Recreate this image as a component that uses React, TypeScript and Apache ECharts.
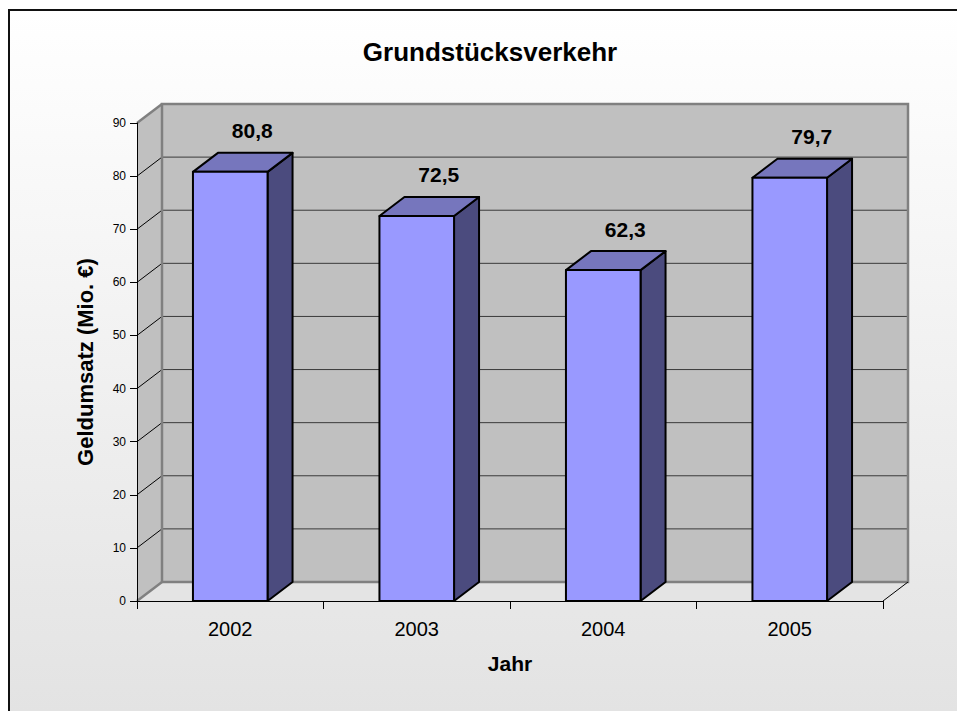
import React, { useEffect, useRef } from "react";
import * as echarts from "echarts";

const categories = ["2002", "2003", "2004", "2005"];
const values = [80.8, 72.5, 62.3, 79.7];
const valueLabels = ["80,8", "72,5", "62,3", "79,7"];
const yMin = 0;
const yMax = 90;
const yStep = 10;
const titleText = "Grundstücksverkehr";
const xName = "Jahr";
const yName = "Geldumsatz (Mio. €)";

const DX = 25;
const DY = 19;
const FONT = "Arial, 'Liberation Sans', sans-serif";

export default function App() {
  const ref = useRef<HTMLDivElement>(null);
  useEffect(() => {
    if (!ref.current) return;
    const chart = echarts.init(ref.current, undefined, { renderer: "svg" });

    const wallsRender = (params: any, api: any) => {
      const cs = params.coordSys;
      const L = cs.x;
      const R = cs.x + cs.width;
      const B = api.coord([0, yMin])[1];
      const T = api.coord([0, yMax])[1];
      const children: any[] = [];
      children.push({
        type: "polygon",
        shape: { points: [[L, B], [L, T], [L + DX, T - DY], [L + DX, B - DY]] },
        style: { fill: "#c0c0c0" },
      });
      children.push({
        type: "polygon",
        shape: { points: [[L, B], [R, B], [R + DX, B - DY], [L + DX, B - DY]] },
        style: { fill: "#e4e4e4" },
      });
      children.push({
        type: "rect",
        shape: { x: L + DX, y: T - DY, width: R - L, height: B - T },
        style: { fill: "#c0c0c0" },
      });
      for (let v = yMin + yStep; v < yMax; v += yStep) {
        const y = api.coord([0, v])[1];
        children.push({
          type: "line",
          shape: { x1: L + DX, y1: y - DY, x2: R + DX, y2: y - DY },
          style: { stroke: "#3a3a3a", lineWidth: 1 },
        });
        children.push({
          type: "line",
          shape: { x1: L, y1: y, x2: L + DX, y2: y - DY },
          style: { stroke: "#000", lineWidth: 1 },
        });
      }
      children.push({
        type: "rect",
        shape: { x: L + DX, y: T - DY, width: R - L, height: B - T },
        style: { fill: "none", stroke: "#808080", lineWidth: 2.5 },
      });
      children.push({
        type: "line",
        shape: { x1: L, y1: T, x2: L + DX, y2: T - DY },
        style: { stroke: "#808080", lineWidth: 2.5 },
      });
      children.push({
        type: "line",
        shape: { x1: L, y1: B, x2: L + DX, y2: B - DY },
        style: { stroke: "#808080", lineWidth: 2.5 },
      });
      children.push({
        type: "line",
        shape: { x1: R, y1: B, x2: R + DX, y2: B - DY },
        style: { stroke: "#000", lineWidth: 1 },
      });
      return { type: "group", children };
    };

    const barsRender = (params: any, api: any) => {
      const idx = api.value(0);
      const val = api.value(1);
      const [cx, yTop] = api.coord([idx, val]);
      const y0 = api.coord([idx, yMin])[1];
      const w = api.size([1, 0])[0] * 0.4;
      const x1 = cx - w / 2;
      const x2 = cx + w / 2;
      const stroke = { stroke: "#000", lineWidth: 2, lineJoin: "round" };
      return {
        type: "group",
        children: [
          {
            type: "polygon",
            shape: { points: [[x2, yTop], [x2 + DX, yTop - DY], [x2 + DX, y0 - DY], [x2, y0]] },
            style: { fill: "#4b4b7e", ...stroke },
          },
          {
            type: "polygon",
            shape: { points: [[x1, yTop], [x2, yTop], [x2 + DX, yTop - DY], [x1 + DX, yTop - DY]] },
            style: { fill: "#7676bd", ...stroke },
          },
          {
            type: "rect",
            shape: { x: x1, y: yTop, width: w, height: y0 - yTop },
            style: { fill: "#9999ff", ...stroke },
          },
          {
            type: "text",
            x: cx + 22,
            y: yTop - 41,
            style: {
              text: valueLabels[params.dataIndex],
              fontFamily: FONT,
              fontWeight: "bold",
              fontSize: 21,
              fill: "#000",
              align: "center",
              verticalAlign: "middle",
            },
          },
        ],
      };
    };

    chart.setOption({
      animation: false,
      backgroundColor: "#ffffff",
      title: {
        text: titleText,
        left: 485,
        top: 34,
        textAlign: "center",
        textStyle: { fontFamily: FONT, fontWeight: "bold", fontSize: 26, color: "#000" },
      },
      graphic: [
        {
          type: "rect",
          z: -10,
          shape: { x: 9, y: 10, width: 1000, height: 702 },
          style: {
            fill: new echarts.graphic.LinearGradient(0, 0, 0, 1, [
              { offset: 0, color: "#ffffff" },
              { offset: 1, color: "#e3e3e3" },
            ]),
            stroke: "#111",
            lineWidth: 2,
          },
        },
      ],
      grid: { left: 137, right: 74, top: 123, bottom: 110 },
      xAxis: {
        type: "category",
        data: categories,
        boundaryGap: true,
        z: 5,
        name: xName,
        nameLocation: "middle",
        nameGap: 52,
        nameTextStyle: { fontFamily: FONT, fontWeight: "bold", fontSize: 21, color: "#000" },
        axisLine: { show: true, lineStyle: { color: "#000", width: 1 } },
        axisTick: { show: true, length: 8, lineStyle: { color: "#000" } },
        axisLabel: { fontFamily: FONT, fontSize: 20, color: "#000", margin: 18 },
        splitLine: { show: false },
      },
      yAxis: {
        type: "value",
        min: yMin,
        max: yMax,
        interval: yStep,
        z: 5,
        name: yName,
        nameLocation: "middle",
        nameRotate: 90,
        nameGap: 41,
        nameTextStyle: { fontFamily: FONT, fontWeight: "bold", fontSize: 22, color: "#000" },
        axisLine: { show: true, lineStyle: { color: "#000", width: 1 } },
        axisTick: { show: true, length: 7, lineStyle: { color: "#000" } },
        axisLabel: { fontFamily: FONT, fontSize: 12, color: "#000", margin: 11 },
        splitLine: { show: false },
      },
      series: [
        {
          type: "custom",
          z: 1,
          silent: true,
          data: [[0, 0]],
          renderItem: wallsRender,
        },
        {
          type: "custom",
          z: 2,
          data: values.map((v, i) => [i, v]),
          renderItem: barsRender,
        },
      ],
    });
    return () => chart.dispose();
  }, []);
  return (
    <div
      ref={ref}
      style={{ position: "absolute", left: 0, top: 0, width: 957, height: 711 }}
    />
  );
}
